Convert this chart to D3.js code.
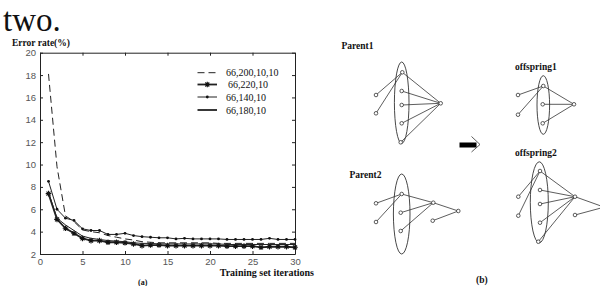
<!DOCTYPE html>
<html><head><meta charset="utf-8">
<script src="https://cdn.jsdelivr.net/npm/d3@7"></script>
<style>html,body{margin:0;padding:0;background:#fff;}svg{display:block;}</style>
</head><body>
<script>
// ---------- data ----------
const iterations = d3.range(1, 31);
const seriesNames = ["66,200,10,10", "66,220,10", "66,140,10", "66,180,10"];
const s200 = [18.1, 9.8, 5.4, 4.9, 4.15, 4.0, 3.9, 3.65, 3.5, 3.35, 3.25, 3.1, 3.05, 3.0, 3.0, 3.0, 3.0, 3.0, 3.0, 3.0, 2.95, 2.95, 2.95, 2.95, 2.95, 2.95, 2.95, 2.95, 2.95, 2.95];
const s220 = [7.4, 5.1, 4.3, 3.85, 3.4, 3.2, 3.2, 3.05, 3.05, 3.0, 2.9, 2.75, 2.8, 2.8, 2.75, 2.75, 2.75, 2.75, 2.75, 2.75, 2.75, 2.7, 2.7, 2.7, 2.7, 2.6, 2.65, 2.65, 2.65, 2.6];
const s140 = [8.5, 6.0, 5.2, 5.0, 4.25, 4.1, 4.1, 3.75, 3.75, 3.85, 3.65, 3.55, 3.5, 3.45, 3.45, 3.35, 3.4, 3.35, 3.35, 3.35, 3.35, 3.3, 3.3, 3.3, 3.3, 3.3, 3.4, 3.3, 3.3, 3.3];
const s180 = [7.5, 5.2, 4.6, 4.1, 3.6, 3.4, 3.3, 3.2, 3.15, 3.1, 3.0, 2.95, 2.95, 2.9, 2.9, 2.9, 2.9, 2.9, 2.9, 2.9, 2.9, 2.85, 2.85, 2.85, 2.85, 2.85, 2.85, 2.85, 2.85, 2.85];
const xTicks = [0, 5, 10, 15, 20, 25, 30];
const yTicks = [2, 4, 6, 8, 10, 12, 14, 16, 18, 20];
const yLabel = "Error rate(%)";
const xLabel = "Training set iterations";

// diagram (b): node ids and links
const diagrams = [
  { title: "Parent1",
    ellipse: [401.7, 102.7, 7.3, 40.7],
    nodes: [[402.3,72.3],[401.7,91],[401.7,105],[401.7,123.3],[400.7,142.3],[376,95],[376,113.3],[440.7,103.3]],
    links: [[5,0],[6,0],[0,7],[1,7],[2,7],[3,7],[4,7]] },
  { title: "Parent2",
    ellipse: [401.7, 214, 8.3, 40],
    nodes: [[401.7,194],[400.7,212.7],[400.7,231],[376,203.3],[376,222],[433.3,202.7],[458.3,211],[432.7,220.7]],
    links: [[3,0],[4,0],[0,5],[5,6],[1,5],[2,5],[7,6]] },
  { title: "offspring1",
    ellipse: [543.3, 105, 6.3, 29.3],
    nodes: [[543.3,86],[542.7,104.3],[542.7,123.3],[518,95],[518,114.7],[574,104.3]],
    links: [[3,0],[4,0],[0,5],[1,5],[2,5]] },
  { title: "offspring2",
    ellipse: [539.3, 202.3, 9, 40.5],
    nodes: [[540,171],[540,190],[540,204],[540,222.7],[538.3,241.7],[518.3,196.7],[518.3,215.7],[575,196.7],[575,215]],
    links: [[5,0],[6,0],[0,7],[1,7],[2,7],[3,7],[4,7],[7,-1],[8,-2]] }
];
const titlePos = [[341.5,49],[349.5,178],[515,70],[515,155.5]];

// ---------- drawing ----------
const W = 600, H = 286;
const svg = d3.select("body").append("svg").attr("width", W).attr("height", H)
  .style("background", "#fff");

svg.append("text").attr("x", 3).attr("y", 31).text("two.")
  .attr("font-family", "Liberation Serif").attr("font-size", 33).attr("fill", "#111");

const L = 40, R = 295, T = 52.7, B = 254;
const x = d3.scaleLinear().domain([0, 30]).range([L, R]);
const y = d3.scaleLinear().domain([2, 20]).range([B, T]);

const g = svg.append("g");
const tickFont = "Liberation Sans";

// axes (MATLAB-style box with inward ticks)
const axB = g.append("g").attr("transform", `translate(0,${B})`)
  .call(d3.axisBottom(x).tickValues(xTicks).tickSizeInner(-3).tickSizeOuter(0).tickPadding(4));
const axL = g.append("g").attr("transform", `translate(${L},0)`)
  .call(d3.axisLeft(y).tickValues(yTicks).tickSizeInner(-3).tickSizeOuter(0).tickPadding(4));
const axT = g.append("g").attr("transform", `translate(0,${T})`)
  .call(d3.axisTop(x).tickValues(xTicks).tickSizeInner(-3).tickSizeOuter(0).tickFormat(""));
const axR = g.append("g").attr("transform", `translate(${R},0)`)
  .call(d3.axisRight(y).tickValues(yTicks).tickSizeInner(-3).tickSizeOuter(0).tickFormat(""));
[axB, axL, axT, axR].forEach(a => {
  a.select(".domain").attr("stroke", "#222").attr("stroke-width", 1);
  a.selectAll(".tick line").attr("stroke", "#222");
  a.selectAll(".tick text").attr("font-family", tickFont).attr("font-size", 9.5).attr("fill", "#555");
});

g.append("text").attr("x", 12).attr("y", 46).text(yLabel)
  .attr("font-family", "Liberation Serif").attr("font-weight", "bold").attr("font-size", 9.5).attr("fill", "#111");
g.append("text").attr("x", 314).attr("y", 276).attr("text-anchor", "end").text(xLabel)
  .attr("font-family", "Liberation Serif").attr("font-weight", "bold").attr("font-size", 10).attr("fill", "#111");
g.append("text").attr("x", 138).attr("y", 285).text("(a)")
  .attr("font-family", "Liberation Serif").attr("font-weight", "bold").attr("font-size", 8).attr("fill", "#111");

const line = d3.line().x((d, i) => x(iterations[i])).y(d => y(d));
const plot = g.append("g");

const styles = [
  { data: s200, width: 1, dash: "7,4", marker: null },
  { data: s220, width: 1.8, dash: null, marker: "star" },
  { data: s140, width: 1, dash: null, marker: "dot" },
  { data: s180, width: 1, dash: null, marker: null }
];

function drawMarker(sel, type, cx, cy) {
  if (type === "star") {
    const r = 2.8, d = 2;
    sel.append("path")
      .attr("d", `M${cx-r},${cy}L${cx+r},${cy}M${cx},${cy-r}L${cx},${cy+r}M${cx-d},${cy-d}L${cx+d},${cy+d}M${cx-d},${cy+d}L${cx+d},${cy-d}`)
      .attr("stroke", "#111").attr("stroke-width", 1.1).attr("fill", "none");
  } else if (type === "dot") {
    sel.append("circle").attr("cx", cx).attr("cy", cy).attr("r", 1.4).attr("fill", "#111");
  }
}

styles.forEach(s => {
  plot.append("path").datum(s.data).attr("d", line)
    .attr("fill", "none").attr("stroke", "#222").attr("stroke-width", s.width)
    .attr("stroke-dasharray", s.dash);
  if (s.marker) s.data.forEach((v, i) => drawMarker(plot, s.marker, x(iterations[i]), y(v)));
});

// legend
const legY = [72.7, 84.5, 97, 110];
const legendStyles = [
  { width: 1, dash: "7,4", marker: null },
  { width: 1.8, dash: null, marker: "star" },
  { width: 1, dash: null, marker: "dot" },
  { width: 1.8, dash: null, marker: null }
];
seriesNames.forEach((n, i) => {
  const s = legendStyles[i];
  g.append("line").attr("x1", 197.5).attr("x2", 217).attr("y1", legY[i]).attr("y2", legY[i])
    .attr("stroke", "#222").attr("stroke-width", s.width).attr("stroke-dasharray", s.dash);
  if (s.marker) drawMarker(g, s.marker, 207.3, legY[i]);
  g.append("text").attr("x", i === 1 ? 228 : 226).attr("y", legY[i] + 3.5).text(n)
    .attr("font-family", "Liberation Serif").attr("font-size", 10).attr("fill", "#111");
});

// ---------- panel (b) ----------
const pb = svg.append("g");
diagrams.forEach((dg, k) => {
  const [ex, ey, erx, ery] = dg.ellipse;
  pb.append("ellipse").attr("cx", ex).attr("cy", ey).attr("rx", erx).attr("ry", ery)
    .attr("fill", "none").attr("stroke", "#333").attr("stroke-width", 0.9);
  dg.links.forEach(([a, b]) => {
    const p = dg.nodes[a];
    let q;
    if (b === -1) q = [601, 206];
    else if (b === -2) q = [601, 208];
    else q = dg.nodes[b];
    pb.append("line").attr("x1", p[0]).attr("y1", p[1]).attr("x2", q[0]).attr("y2", q[1])
      .attr("stroke", "#333").attr("stroke-width", 0.8);
  });
  dg.nodes.forEach(p => {
    pb.append("circle").attr("cx", p[0]).attr("cy", p[1]).attr("r", 1.8)
      .attr("fill", "#fff").attr("stroke", "#333").attr("stroke-width", 0.8);
  });
  pb.append("text").attr("x", titlePos[k][0]).attr("y", titlePos[k][1]).text(dg.title)
    .attr("font-family", "Liberation Serif").attr("font-weight", "bold").attr("font-size", 9.5).attr("fill", "#111");
});
// arrow
pb.append("rect").attr("x", 459.5).attr("y", 142.5).attr("width", 17).attr("height", 5).attr("fill", "#000");
pb.append("path").attr("d", "M471.5,136.5L480,144.5L471.5,152")
  .attr("fill", "none").attr("stroke", "#333").attr("stroke-width", 0.8);
pb.append("text").attr("x", 476).attr("y", 283).text("(b)")
  .attr("font-family", "Liberation Serif").attr("font-weight", "bold").attr("font-size", 9.5).attr("fill", "#111");
</script>
</body></html>
